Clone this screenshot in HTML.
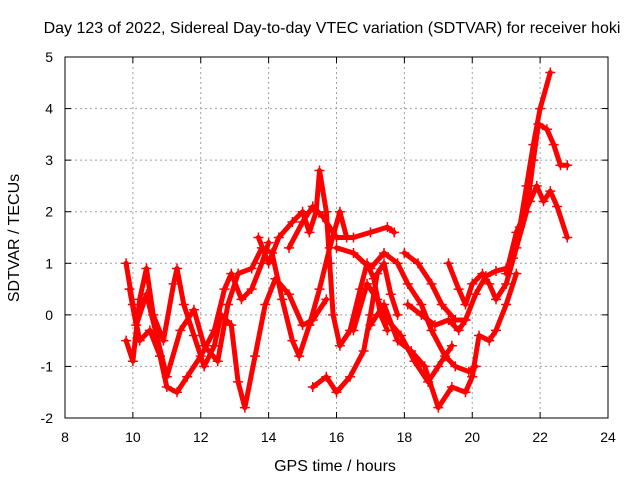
<!DOCTYPE html>
<html><head><meta charset="utf-8"><style>
body{margin:0;background:#fff}
svg{display:block;font-family:"Liberation Sans",sans-serif}
</style></head><body>
<svg id="chart" width="640" height="480">
<text x="332" y="33" font-size="16" text-anchor="middle">Day 123 of 2022, Sidereal Day-to-day VTEC variation (SDTVAR) for receiver hoki</text>
<text x="335" y="471" font-size="16" text-anchor="middle">GPS time / hours</text>
<text transform="translate(19,238) rotate(-90)" font-size="16" text-anchor="middle">SDTVAR / TECUs</text>
<g id="grid"></g>
<g id="ticks"></g>
<g id="series"></g>
<rect x="65" y="57" width="543" height="361" fill="none" stroke="#000"/>
</svg>
<script>
const xTicks=[8,10,12,14,16,18,20,22,24];
const yTicks=[-2,-1,0,1,2,3,4,5];
const trackL1=[[9.8,1.0],[10.0,0.2],[10.2,-0.5],[10.5,-0.3],[10.8,-0.8],[11.0,-1.4],[11.3,-1.5],[11.6,-1.2],[12.0,-0.8],[12.4,-0.3],[12.7,0.5],[12.9,0.8],[13.2,0.3],[13.5,0.5],[13.8,1.0],[14.0,1.4]];
const trackL2=[[9.8,-0.5],[10.0,-0.9],[10.2,0.3],[10.4,0.9],[10.6,0.0],[10.9,-0.5],[11.2,0.6],[11.3,0.9],[11.5,0.2],[11.8,-0.4],[12.1,-1.0],[12.4,-0.6],[12.6,0.0],[12.9,-0.2],[13.1,-1.3],[13.3,-1.8],[13.6,-0.8],[13.9,0.2],[14.2,0.7],[14.6,0.4],[15.0,-0.2],[15.3,-0.1],[15.7,0.3]];
const trackL3=[[9.9,0.5],[10.1,-0.2],[10.4,0.4],[10.7,-0.4],[11.0,-1.2],[11.4,-0.3],[11.8,0.1],[12.1,-0.6],[12.5,-0.9],[12.8,0.2],[13.1,0.8],[13.5,0.9],[13.8,1.3],[14.1,1.2],[14.4,0.3],[14.7,-0.5],[14.9,-0.8],[15.2,-0.2],[15.5,0.5],[15.8,1.3],[16.1,2.0],[16.3,1.5]];
const trackM1=[[13.7,1.5],[14.0,1.0],[14.3,1.5],[14.7,1.8],[15.0,2.0],[15.2,1.6],[15.4,2.0],[15.5,2.8],[15.7,2.0],[15.8,1.0],[15.9,0.0],[16.1,-0.6],[16.4,-0.3],[16.7,0.5],[16.9,1.0],[17.1,0.7],[17.3,0.0],[17.5,-0.3]];
const trackM2=[[14.6,1.3],[15.0,1.8],[15.3,2.1],[15.6,1.9],[16.0,1.5],[16.5,1.5],[17.0,1.6],[17.5,1.7],[17.7,1.6]];
const trackM3=[[16.0,1.3],[16.5,1.2],[17.0,0.9],[17.4,1.2],[17.8,1.0],[18.1,0.6],[18.5,0.2],[18.8,-0.3],[19.2,-0.8],[19.5,-1.0],[19.9,-1.1],[20.1,-1.0]];
const trackM4=[[15.3,-1.4],[15.7,-1.2],[16.0,-1.5],[16.4,-1.2],[16.8,-0.7],[17.0,0.0],[17.2,0.8],[17.4,1.0],[17.6,0.4],[17.8,0.0]];
const trackM5=[[16.5,-0.3],[16.9,0.6],[17.2,0.3],[17.5,-0.1],[17.9,-0.4],[18.3,-0.9],[18.7,-1.3],[19.0,-1.0],[19.4,-0.6]];
const trackM6=[[17.0,-0.2],[17.4,0.2],[17.8,-0.5],[18.2,-0.7],[18.6,-1.0],[19.0,-1.8],[19.4,-1.4],[19.8,-1.5],[20.0,-1.2],[20.2,-0.4],[20.5,-0.5],[20.7,-0.3],[21.0,0.2],[21.3,0.8]];
const trackR1=[[18.0,1.2],[18.4,1.0],[18.8,0.6],[19.1,0.2],[19.5,-0.1],[19.8,-0.1],[20.1,0.4],[20.4,0.75],[20.7,0.85],[21.0,0.9],[21.2,1.1],[21.4,1.7],[21.6,2.5],[21.8,3.3],[22.0,4.0],[22.3,4.7]];
const trackR2=[[19.3,1.0],[19.6,0.5],[19.8,0.2],[20.0,0.6],[20.3,0.8],[20.5,0.6],[20.7,0.3],[21.0,0.6],[21.3,1.3],[21.6,2.0],[21.8,3.0],[21.95,3.7],[22.2,3.6],[22.4,3.3],[22.6,2.9],[22.8,2.9]];
const trackR3=[[21.0,0.8],[21.3,1.6],[21.7,2.2],[21.9,2.5],[22.1,2.2],[22.3,2.4],[22.5,2.1],[22.8,1.5]];
const trackR4=[[18.1,0.2],[18.5,0.0],[18.9,-0.2],[19.3,-0.1],[19.6,-0.3],[19.8,-0.1]];
const tracks=[trackL1,trackL2,trackL3,trackM1,trackM2,trackM3,trackM4,trackM5,trackM6,trackR1,trackR2,trackR3,trackR4];
const X0=65,X1=608,Y0=418,Y1=57;
const sx=v=>X0+(v-8)/16*(X1-X0);
const sy=v=>Y0-(v+2)/7*(Y0-Y1);
const NS="http://www.w3.org/2000/svg";
const grid=document.getElementById('grid'),ticks=document.getElementById('ticks'),series=document.getElementById('series');
function mk(tag,attrs,parent){const e=document.createElementNS(NS,tag);for(const k in attrs)e.setAttribute(k,attrs[k]);parent.appendChild(e);return e;}
xTicks.forEach(t=>{const x=sx(t);
 if(t>8&&t<24){const l=mk('line',{x1:x,x2:x,y1:Y1,y2:Y0,stroke:'#a0a0a0','stroke-dasharray':'2,3'},grid);
 
 }
 mk('line',{x1:x,x2:x,y1:Y0,y2:Y0-6,stroke:'#000'},ticks);
 mk('line',{x1:x,x2:x,y1:Y1,y2:Y1+6,stroke:'#000'},ticks);
 const tx=mk('text',{x:x,y:Y0+24,'font-size':14,'text-anchor':'middle'},ticks);tx.textContent=t;
 
 });
yTicks.forEach(t=>{const y=sy(t);
 if(t>-2&&t<5){const l=mk('line',{x1:X0,x2:X1,y1:y,y2:y,stroke:'#a0a0a0','stroke-dasharray':'2,3'},grid);
 
 }
 mk('line',{x1:X0,x2:X0+6,y1:y,y2:y,stroke:'#000'},ticks);
 mk('line',{x1:X1,x2:X1-6,y1:y,y2:y,stroke:'#000'},ticks);
 const tx=mk('text',{x:X0-12,y:y+5,'font-size':14,'text-anchor':'end'},ticks);tx.textContent=t;
 
 });
tracks.forEach((tr,i)=>{
 const p=mk('polyline',{points:tr.map(d=>sx(d[0])+','+sy(d[1])).join(' '),fill:'none',stroke:'#ff0000','stroke-width':5,'stroke-linejoin':'round','stroke-linecap':'round'},series);
 
 
 tr.forEach(d=>{const x=sx(d[0]),y=sy(d[1]);
  const m=mk('path',{d:`M${x-5},${y}h10M${x},${y-5}v10`,stroke:'#ff0000','stroke-width':1.5},series);
  
  });
});
</script>
</body></html>
